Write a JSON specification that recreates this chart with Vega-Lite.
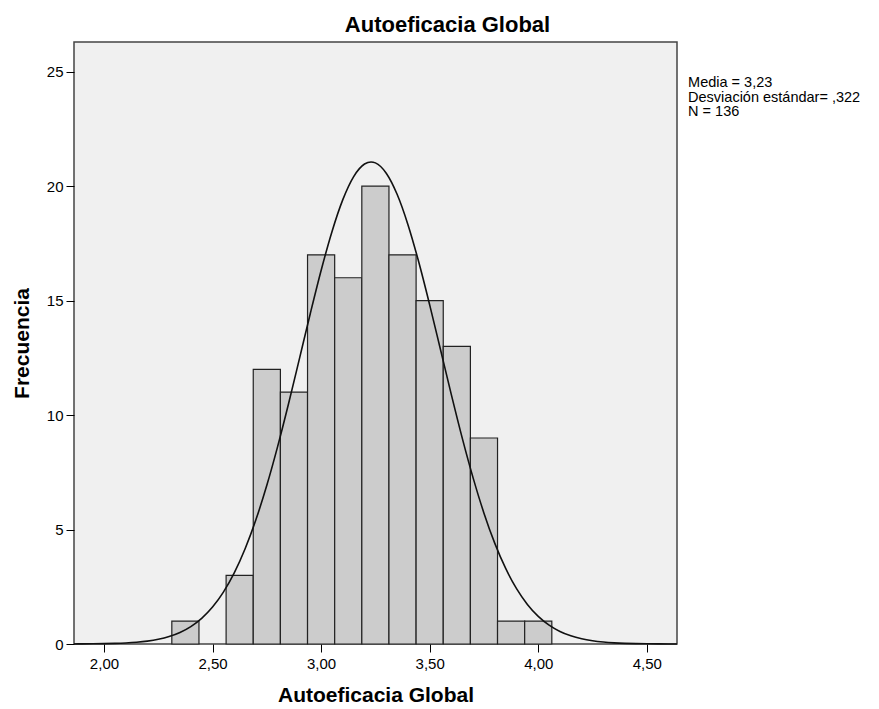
{
  "$schema": "https://vega.github.io/schema/vega-lite/v6.json",
  "autosize": {"type": "none"},
  "padding": {"left": 74, "top": 42, "right": 202, "bottom": 65},
  "width": 603,
  "height": 602,
  "background": "white",
  "config": {
    "font": "Liberation Sans",
    "view": {"fill": "#f0f0f0", "stroke": "#444444", "strokeWidth": 1.5},
    "axis": {
      "grid": false,
      "domain": false,
      "tickColor": "#000000",
      "tickSize": 8,
      "tickWidth": 1,
      "labelColor": "#000000",
      "labelFont": "Liberation Sans",
      "labelFontSize": 15,
      "titleFont": "Liberation Sans",
      "titleFontSize": 21,
      "titleFontWeight": "bold",
      "titleColor": "#000000"
    }
  },
  "title": {
    "text": "Autoeficacia Global",
    "font": "Liberation Sans",
    "fontSize": 22,
    "fontWeight": "bold",
    "color": "#000000",
    "anchor": "middle",
    "dx": 72,
    "offset": 5
  },
  "datasets": {
    "barras": [
      {"desde": 2.3125, "hasta": 2.4375, "frecuencia": 1},
      {"desde": 2.5625, "hasta": 2.6875, "frecuencia": 3},
      {"desde": 2.6875, "hasta": 2.8125, "frecuencia": 12},
      {"desde": 2.8125, "hasta": 2.9375, "frecuencia": 11},
      {"desde": 2.9375, "hasta": 3.0625, "frecuencia": 17},
      {"desde": 3.0625, "hasta": 3.1875, "frecuencia": 16},
      {"desde": 3.1875, "hasta": 3.3125, "frecuencia": 20},
      {"desde": 3.3125, "hasta": 3.4375, "frecuencia": 17},
      {"desde": 3.4375, "hasta": 3.5625, "frecuencia": 15},
      {"desde": 3.5625, "hasta": 3.6875, "frecuencia": 13},
      {"desde": 3.6875, "hasta": 3.8125, "frecuencia": 9},
      {"desde": 3.8125, "hasta": 3.9375, "frecuencia": 1},
      {"desde": 3.9375, "hasta": 4.0625, "frecuencia": 1}
    ],
    "curva": [
      {"x": 1.862, "y": 0.0028},
      {"x": 1.9, "y": 0.0042},
      {"x": 1.95, "y": 0.0078},
      {"x": 2.0, "y": 0.0143},
      {"x": 2.05, "y": 0.0255},
      {"x": 2.1, "y": 0.0446},
      {"x": 2.15, "y": 0.0759},
      {"x": 2.2, "y": 0.1263},
      {"x": 2.25, "y": 0.2052},
      {"x": 2.3, "y": 0.3251},
      {"x": 2.35, "y": 0.5034},
      {"x": 2.4, "y": 0.7599},
      {"x": 2.45, "y": 1.12},
      {"x": 2.5, "y": 1.612},
      {"x": 2.55, "y": 2.265},
      {"x": 2.6, "y": 3.106},
      {"x": 2.65, "y": 4.16},
      {"x": 2.7, "y": 5.435},
      {"x": 2.75, "y": 6.933},
      {"x": 2.8, "y": 8.634},
      {"x": 2.85, "y": 10.497},
      {"x": 2.9, "y": 12.457},
      {"x": 2.95, "y": 14.43},
      {"x": 3.0, "y": 16.318},
      {"x": 3.05, "y": 18.014},
      {"x": 3.1, "y": 19.412},
      {"x": 3.15, "y": 20.42},
      {"x": 3.2, "y": 20.969},
      {"x": 3.23, "y": 21.06},
      {"x": 3.25, "y": 21.019},
      {"x": 3.3, "y": 20.568},
      {"x": 3.35, "y": 19.647},
      {"x": 3.4, "y": 18.32},
      {"x": 3.45, "y": 16.676},
      {"x": 3.5, "y": 14.817},
      {"x": 3.55, "y": 12.853},
      {"x": 3.6, "y": 10.883},
      {"x": 3.65, "y": 8.995},
      {"x": 3.7, "y": 7.258},
      {"x": 3.75, "y": 5.717},
      {"x": 3.8, "y": 4.396},
      {"x": 3.85, "y": 3.3},
      {"x": 3.9, "y": 2.417},
      {"x": 3.95, "y": 1.729},
      {"x": 4.0, "y": 1.207},
      {"x": 4.05, "y": 0.8226},
      {"x": 4.1, "y": 0.5471},
      {"x": 4.15, "y": 0.3555},
      {"x": 4.2, "y": 0.2253},
      {"x": 4.25, "y": 0.1396},
      {"x": 4.3, "y": 0.0842},
      {"x": 4.35, "y": 0.0497},
      {"x": 4.4, "y": 0.0286},
      {"x": 4.45, "y": 0.0161},
      {"x": 4.5, "y": 0.0088},
      {"x": 4.55, "y": 0.0047},
      {"x": 4.6, "y": 0.0025},
      {"x": 4.639, "y": 0.0014}
    ],
    "nota": [
      {"texto": "Media = 3,23\nDesviación estándar= ,322\nN = 136"}
    ]
  },
  "layer": [
    {
      "data": {"name": "barras"},
      "mark": {"type": "rect", "fill": "#cccccc", "stroke": "#222222", "strokeWidth": 1.2, "opacity": 1},
      "encoding": {
        "x": {
          "field": "desde",
          "type": "quantitative",
          "scale": {"domain": [1.862, 4.639], "nice": false, "zero": false},
          "axis": {
            "title": "Autoeficacia Global",
            "values": [2, 2.5, 3, 3.5, 4, 4.5],
            "labelExpr": "replace(format(datum.value, '.2f'), '.', ',')",
            "labelPadding": 4,
            "titlePadding": 13
          }
        },
        "x2": {"field": "hasta"},
        "y": {
          "field": "frecuencia",
          "type": "quantitative",
          "scale": {"domain": [0, 26.3], "nice": false},
          "axis": {
            "title": "Frecuencia",
            "values": [0, 5, 10, 15, 20, 25],
            "labelPadding": 3,
            "titlePadding": 14
          }
        },
        "y2": {"datum": 0}
      }
    },
    {
      "data": {"name": "curva"},
      "mark": {"type": "line", "color": "#111111", "strokeWidth": 1.6, "interpolate": "monotone"},
      "encoding": {
        "x": {"field": "x", "type": "quantitative"},
        "y": {"field": "y", "type": "quantitative"}
      }
    },
    {
      "data": {"name": "nota"},
      "mark": {
        "type": "text",
        "align": "left",
        "baseline": "alphabetic",
        "font": "Liberation Sans",
        "fontSize": 14.5,
        "lineHeight": 14.5,
        "lineBreak": "\n",
        "color": "#000000",
        "clip": false
      },
      "encoding": {
        "x": {"datum": 4.69, "type": "quantitative"},
        "y": {"datum": 24.33, "type": "quantitative"},
        "text": {"field": "texto"}
      }
    }
  ]
}
